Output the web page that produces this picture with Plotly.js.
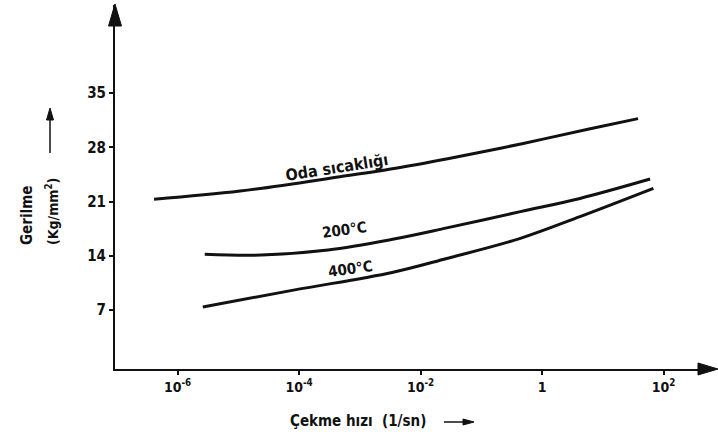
<!DOCTYPE html>
<html>
<head>
<meta charset="utf-8">
<script src="https://cdn.plot.ly/plotly-3.0.1.min.js"></script>
<style>html,body{margin:0;padding:0;background:#fff;}#chart{width:718px;height:437px;}</style>
</head>
<body>
<div id="chart"></div>
<script>
// Strain rate (1/sn) and stress (Kg/mm²)
const odaRate   = [4.1e-7, 1.07e-5, 4.7e-4, 4.6e-3, 0.039, 0.49, 6.2, 38];
const odaStress = [21.3, 22.35, 24.2, 25.4, 26.75, 28.5, 30.4, 31.7];

const t200Rate   = [2.8e-6, 2.4e-5, 3.0e-4, 3.3e-3, 0.027, 0.44, 4.2, 60];
const t200Stress = [14.2, 14.1, 14.75, 16.1, 17.6, 19.7, 21.4, 23.9];

const t400Rate   = [2.6e-6, 8.5e-5, 3.4e-3, 0.027, 0.44, 4.2, 68];
const t400Stress = [7.4, 9.6, 11.85, 13.65, 16.25, 19.05, 22.7];

const xTickVals = [1e-6, 1e-4, 1e-2, 1, 100];
const xTickText = ['10<sup>-6</sup>', '10<sup>-4</sup>', '10<sup>-2</sup>', '1', '10<sup>2</sup>'];
const yTickVals = [7, 14, 21, 28, 35];

const curveLabels = ['Oda sıcaklığı', '200°C', '400°C'];

const FONT = 'DejaVu Sans Condensed, DejaVu Sans, sans-serif';
const INK = '#111';
const lineStyle = {color: INK, width: 3, shape: 'spline', smoothing: 1};

const traces = [
  {x: odaRate, y: odaStress, mode: 'lines', line: lineStyle, name: curveLabels[0], hoverinfo: 'skip'},
  {x: t200Rate, y: t200Stress, mode: 'lines', line: lineStyle, name: curveLabels[1], hoverinfo: 'skip'},
  {x: t400Rate, y: t400Stress, mode: 'lines', line: lineStyle, name: curveLabels[2], hoverinfo: 'skip'}
];

// paper-coordinate helpers (plot area: x 115..714 px, y 5..369 px)
const PX = x => (x - 115) / 599;
const PY = y => (369 - y) / 364;
function tri(p1, p2, p3) {
  return {type: 'path', xref: 'paper', yref: 'paper', fillcolor: INK, line: {color: INK, width: 1},
    path: `M${PX(p1[0])},${PY(p1[1])} L${PX(p2[0])},${PY(p2[1])} L${PX(p3[0])},${PY(p3[1])} Z`};
}
function seg(a, b, w) {
  return {type: 'line', xref: 'paper', yref: 'paper', x0: PX(a[0]), y0: PY(a[1]), x1: PX(b[0]), y1: PY(b[1]),
    line: {color: INK, width: w}};
}

const bold = size => ({family: FONT, size: size, color: INK, weight: 'bold'});

const layout = {
  width: 718, height: 437,
  margin: {l: 115, r: 4, t: 5, b: 68},
  paper_bgcolor: '#fff', plot_bgcolor: '#fff',
  showlegend: false,
  font: {family: FONT, color: INK, size: 13},
  xaxis: {
    type: 'log', range: [-7.03, 2.83],
    tickvals: xTickVals, ticktext: xTickText,
    showgrid: false, zeroline: false,
    showline: true, linecolor: INK, linewidth: 2,
    ticks: 'outside', ticklen: 4, tickwidth: 2, tickcolor: INK,
    tickfont: bold(14)
  },
  yaxis: {
    range: [-0.61, 46.36],
    tickvals: yTickVals,
    showgrid: false, zeroline: false,
    showline: true, linecolor: INK, linewidth: 2,
    ticks: 'outside', ticklen: 4, tickwidth: 2, tickcolor: INK,
    tickfont: bold(15)
  },
  shapes: [
    // y axis arrowhead
    tri([115, 4], [108.5, 26], [121.5, 26]),
    // x axis arrowhead
    tri([718, 369], [698, 363], [698, 375]),
    // small arrow beside the y title
    seg([50, 153], [50, 118], 1.5),
    tri([50, 108], [46.5, 120], [53.5, 120]),
    // small arrow after the x title
    seg([444, 422], [466, 422], 1.5),
    tri([474, 422], [463, 419], [463, 425])
  ],
  annotations: [
    {xref: 'x', yref: 'y', x: -3.38, y: 25.4, text: curveLabels[0], showarrow: false, textangle: -9, font: bold(16)},
    {xref: 'x', yref: 'y', x: -3.26, y: 17.3, text: curveLabels[1], showarrow: false, textangle: -8, font: bold(15)},
    {xref: 'x', yref: 'y', x: -3.15, y: 12.3, text: curveLabels[2], showarrow: false, textangle: -8, font: bold(15)},
    // y axis title (two lines)
    {xref: 'paper', yref: 'paper', x: PX(27), y: PY(216), xanchor: 'center', yanchor: 'middle',
     text: 'Gerilme', showarrow: false, textangle: -90, font: bold(15)},
    {xref: 'paper', yref: 'paper', x: PX(52), y: PY(212), xanchor: 'center', yanchor: 'middle',
     text: '(Kg/mm<sup>2</sup>)', showarrow: false, textangle: -90, font: bold(14)},
    // x axis title
    {xref: 'paper', yref: 'paper', x: PX(358), y: PY(421), xanchor: 'center', yanchor: 'middle',
     text: 'Çekme hızı  (1/sn)', showarrow: false, font: bold(15)}
  ]
};

Plotly.newPlot('chart', traces, layout, {displayModeBar: false, staticPlot: true});
</script>
</body>
</html>
